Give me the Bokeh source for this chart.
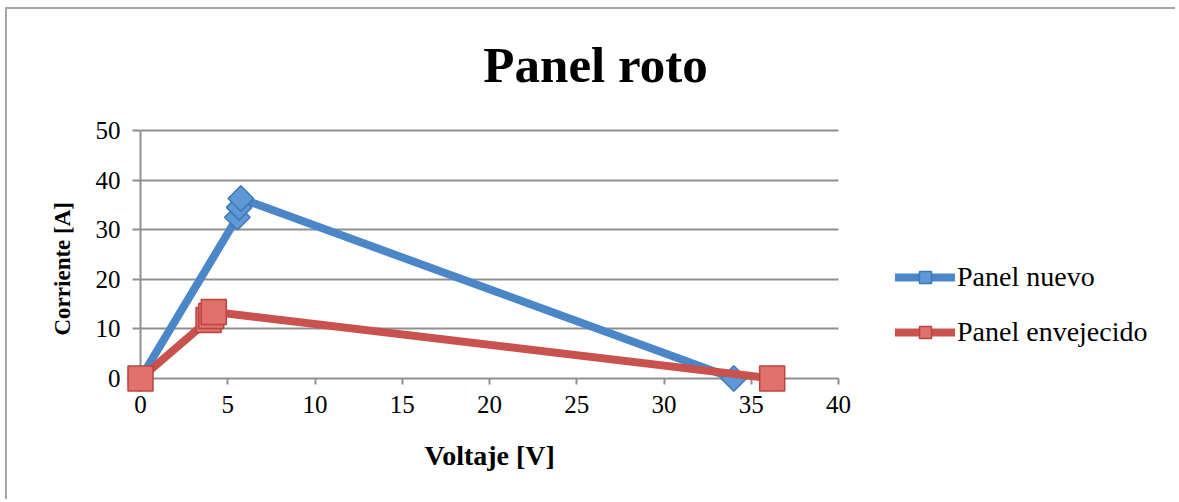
from bokeh.plotting import figure
from bokeh.models import Range1d, Title, Label, Legend, LegendItem, FixedTicker
from bokeh.embed import file_html
from bokeh.resources import INLINE

title_text = "Panel roto"
x_label = "Voltaje [V]"
y_label = "Corriente [A]"
series_names = ["Panel nuevo", "Panel envejecido"]
nuevo_v = [0, 5.55, 5.65, 5.75, 34.0]
nuevo_i = [0, 32.5, 34.5, 36.3, 0]
viejo_v = [0, 3.9, 4.05, 4.2, 36.2]
viejo_i = [0, 11.8, 12.6, 13.4, 0]
x_ticks = [0, 5, 10, 15, 20, 25, 30, 35, 40]
y_ticks = [0, 10, 20, 30, 40, 50]

FONT = "Liberation Serif"
GRAY = "#8f8f8f"
BLUE = "#4a86c8"
RED = "#c9524e"

W, H = 1170, 492
LEFT, RIGHT, BOTTOM = 133, 7, 123
# the axes' 0..40 / 0..50 box is 698 x 248 px; the frame is widened to host title and legend
PX_X = 698 / 40
PX_Y = 248 / 50
x_end = (W - LEFT - RIGHT) / PX_X
y_end = (H - BOTTOM) / PX_Y

p = figure(width=W, height=H, output_backend="svg", toolbar_location=None,
           x_range=Range1d(0, x_end), y_range=Range1d(0, y_end),
           min_border_left=LEFT, min_border_top=0,
           min_border_right=RIGHT, min_border_bottom=BOTTOM)
p.outline_line_color = None
p.background_fill_color = "white"
p.border_fill_color = "white"
p.styles = {"border-left": "2px solid #a6a6a6", "border-top": "2px solid #a6a6a6",
            "margin-left": "5px", "margin-top": "7px"}

for ax in (p.xaxis[0], p.yaxis[0]):
    ax.axis_line_color = GRAY
    ax.axis_line_width = 2
    ax.major_tick_line_color = GRAY
    ax.major_tick_line_width = 2
    ax.major_tick_in = 0
    ax.minor_tick_line_color = None
    ax.major_label_text_font = FONT
    ax.major_label_text_font_size = "25px"
    ax.major_label_text_color = "black"
p.xaxis[0].ticker = FixedTicker(ticks=x_ticks)
p.xaxis[0].bounds = (x_ticks[0], x_ticks[-1])
p.yaxis[0].ticker = FixedTicker(ticks=y_ticks)
p.yaxis[0].bounds = (y_ticks[0], y_ticks[-1])
p.xaxis[0].major_tick_out = 6
p.xaxis[0].major_label_standoff = 11
p.yaxis[0].major_tick_out = 8
p.yaxis[0].major_label_standoff = 12

xt = Title(text=x_label, text_font=FONT, text_font_size="28px", text_font_style="bold",
           text_color="black", align="left", offset=284, vertical_align="top", standoff=48)
p.add_layout(xt, "below")
yt = Title(text=y_label, text_font=FONT, text_font_size="23px", text_font_style="bold",
           text_color="black", align="left", offset=43, vertical_align="bottom", standoff=36)
p.add_layout(yt, "left")

p.xgrid.visible = False
p.ygrid.ticker = FixedTicker(ticks=y_ticks)
p.ygrid.cross_bounds = (x_ticks[0], x_ticks[-1])
p.ygrid.grid_line_color = GRAY
p.ygrid.grid_line_width = 2

l1 = p.line(nuevo_v, nuevo_i, line_color=BLUE, line_width=8, line_cap="round", line_join="round")
s1 = p.scatter(nuevo_v, nuevo_i, marker="square", angle=0.785398, size=18,
               fill_color="#5f98d6", line_color="#3f77b5", line_width=1.5, level="overlay")
l2 = p.line(viejo_v, viejo_i, line_color=RED, line_width=8, line_cap="round", line_join="round",
            level="overlay")
s2 = p.scatter(viejo_v, viejo_i, marker="square", size=25,
               fill_color="#e2706d", line_color="#b8443f", line_width=1.5, level="overlay")

legend = Legend(items=[LegendItem(label=series_names[0], renderers=[l1, s1]),
                       LegendItem(label=series_names[1], renderers=[l2, s2])],
                location=(755, 30), orientation="vertical")
legend.border_line_color = None
legend.background_fill_alpha = 0
legend.label_text_font = FONT
legend.label_text_font_size = "28px"
legend.label_text_color = "black"
legend.glyph_width = 60
legend.glyph_height = 30
legend.label_standoff = 2
legend.spacing = 23
legend.padding = 10
legend.margin = 0
p.add_layout(legend)

title = Label(x=455, y=314, x_units="screen", y_units="screen", text=title_text,
              text_font=FONT, text_font_size="51px", text_font_style="bold",
              text_align="center", text_baseline="alphabetic", text_color="black")
p.add_layout(title)

open("out.html", "w").write(file_html(p, INLINE))
